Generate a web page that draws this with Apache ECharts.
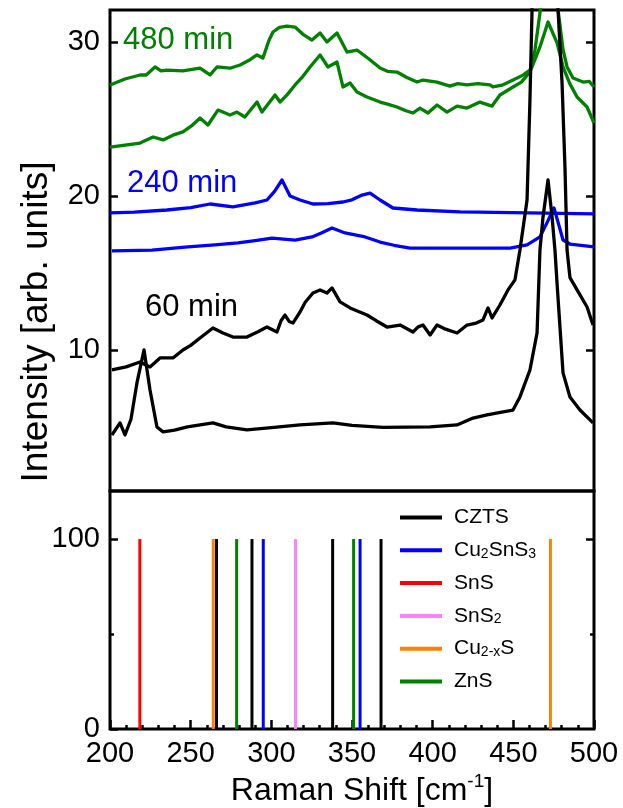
<!DOCTYPE html>
<html><head><meta charset="utf-8">
<script src="https://cdn.jsdelivr.net/npm/echarts@6/dist/echarts.min.js"></script>
<style>html,body{margin:0;padding:0;background:#fff;}#c{width:623px;height:808px;}</style>
</head><body><div id="c"></div>
<script>
const FONT = '"Liberation Sans", Arial, sans-serif';

// ---- Raman spectra (x: Raman shift cm-1, y: intensity arb. units) ----
const green480Upper = [
  [200.0,27.21],[209.3,27.60],[218.6,27.86],[222.4,27.86],[227.9,28.38],[231.6,28.12],[235.3,28.18],
  [245.2,28.12],[255.8,28.31],[262.0,27.86],[266.3,28.38],[274.4,28.30],[280.6,28.51],[286.8,28.85],
  [291.1,29.16],[294.8,28.96],[298.5,30.10],[301.0,30.65],[305.0,30.95],[309.7,31.04],[314.7,30.97],
  [319.6,30.50],[325.2,30.13],[330.2,30.58],[334.5,30.00],[340.7,30.58],[346.9,29.35],[353.1,29.48],
  [360.5,28.90],[367.4,28.31],[372.0,28.10],[377.9,28.05],[384.0,27.70],[390.3,27.40],[394.0,27.53],
  [402.7,27.40],[410.7,27.14],[415.5,27.30],[421.3,27.21],[428.0,27.30],[435.5,27.21],[437.4,27.08],
  [443.0,27.20],[449.8,27.53],[456.0,27.85],[460.3,28.18],[463.4,29.48],[466.5,31.88],[471.5,38.0],
  [477.7,32.1],[480.8,29.5],[483.3,28.38],[487.0,27.66],[493.2,27.40],[497.0,27.45],[500.0,27.08]
];
const green480Lower = [
  [200.0,23.18],[209.3,23.30],[218.6,23.44],[226.7,23.83],[232.9,23.64],[239.0,23.95],[245.2,24.16],
  [250.5,24.55],[255.8,25.06],[260.7,24.61],[266.9,25.58],[274.4,25.26],[278.7,25.45],[283.6,25.13],
  [291.1,26.10],[294.2,25.45],[302.3,26.56],[305.4,26.10],[310.0,26.60],[314.7,27.21],[319.0,27.70],
  [324.0,28.38],[330.2,29.16],[335.1,28.38],[340.7,28.70],[344.4,27.08],[348.8,27.34],[353.1,26.75],
  [359.3,26.43],[367.4,26.10],[372.5,25.95],[377.9,25.78],[383.0,25.55],[387.8,25.39],[392.1,25.71],
  [397.1,25.39],[402.7,25.91],[408.9,25.45],[415.1,25.84],[421.3,25.71],[429.3,26.10],[436.8,25.84],
  [441.7,26.56],[449.8,27.08],[455.0,27.40],[460.3,28.05],[466.5,29.68],[471.5,31.30],[477.1,29.94],
  [480.8,28.38],[485.0,27.30],[489.5,26.43],[495.7,25.78],[500.0,24.74]
];
const blue240Upper = [
  [200.0,18.90],[215.0,18.95],[235.3,19.09],[250.0,19.25],[262.0,19.48],[276.2,19.29],[290.0,19.55],
  [297.3,19.74],[302.0,20.30],[306.6,21.04],[311.6,20.00],[317.8,19.74],[325.8,19.48],[335.0,19.50],
  [344.4,19.61],[350.0,19.75],[356.2,20.06],[361.2,20.19],[367.4,19.74],[375.4,19.22],[390.3,19.09],
  [417.0,18.97],[460.0,18.90],[500.0,18.84]
];
const blue240Lower = [
  [201.2,16.43],[226.0,16.49],[248.3,16.69],[265.0,16.82],[279.3,16.95],[290.0,17.10],[300.4,17.27],
  [314.7,17.14],[325.2,17.34],[331.0,17.60],[337.6,17.92],[345.7,17.60],[358.1,17.34],[367.4,17.01],
  [376.0,16.80],[386.0,16.62],[420.0,16.62],[448.0,16.62],[458.5,16.82],[466.5,17.34],[471.5,18.40],
  [475.2,19.22],[477.7,18.30],[480.8,17.14],[485.1,16.88],[500.0,16.69]
];
const black60Upper = [
  [201.2,8.70],[210.0,8.90],[218.6,9.22],[224.8,8.90],[231.0,9.48],[239.0,9.48],[245.2,10.00],
  [250.0,10.30],[255.8,10.78],[263.8,11.43],[270.0,11.10],[276.2,10.84],[284.9,10.84],[292.0,11.20],
  [297.3,11.49],[303.5,11.17],[306.0,11.90],[308.5,12.27],[311.0,11.85],[313.4,11.75],[317.8,12.47],
  [321.0,13.10],[325.8,13.70],[330.2,13.90],[334.5,13.70],[337.6,14.03],[342.6,13.12],[348.8,12.73],
  [354.0,12.50],[359.3,12.27],[365.0,11.90],[371.7,11.49],[379.8,11.62],[387.8,11.17],[391.0,11.50],
  [394.0,11.62],[398.4,10.97],[402.7,11.62],[408.0,11.35],[415.1,11.10],[421.3,11.62],[427.0,11.75],
  [431.2,11.95],[434.3,12.73],[436.8,12.08],[441.7,12.92],[446.7,13.90],[451.0,14.55],[454.1,16.49],
  [458.5,19.74],[460.3,26.23],[461.6,32.1],[471.0,60.0],[477.7,32.1],[480.2,27.34],[482.0,21.90],
  [483.3,16.49],[485.1,14.70],[489.5,13.90],[495.7,12.79],[499.4,11.62]
];
const black60Lower = [
  [201.2,4.48],[206.2,5.26],[209.3,4.48],[213.0,5.50],[216.7,7.86],[221.1,10.00],[224.8,7.40],
  [229.1,5.00],[232.9,4.68],[240.0,4.80],[248.0,5.00],[263.8,5.26],[272.0,5.00],[284.9,4.81],
  [300.0,4.95],[317.8,5.13],[338.2,5.26],[350.0,5.10],[369.2,4.97],[398.4,5.00],[415.1,5.13],
  [425.0,5.58],[433.7,5.78],[442.0,5.95],[449.8,6.10],[454.1,6.95],[460.3,8.70],[464.7,11.10],
  [466.5,16.49],[468.4,18.64],[471.5,21.04],[474.0,18.64],[475.8,16.49],[477.1,14.32],[480.8,8.51],
  [485.1,6.95],[491.3,6.10],[499.4,5.26]
];

// ---- Reference peak positions (cm-1), relative intensity 100 ----
const cztsPeaks = [266, 288, 338, 368];
const cu2sns3Peaks = [295, 355];
const snsPeaks = [218.5];
const sns2Peaks = [315];
const cu2xsPeaks = [264, 473];
const znsPeaks = [278.5, 351];
const stickHeight = 100;

// ---- Tick values ----
const topYTicks = [10, 20, 30];
const botYMajor = [0, 100];
const botYMinor = [50];

const phases = [
  {name:'CZTS', peaks:cztsPeaks, color:'#000000'},
  {name:'Cu2SnS3', peaks:cu2sns3Peaks, color:'#0000ff'},
  {name:'SnS', peaks:snsPeaks, color:'#ff0000'},
  {name:'SnS2', peaks:sns2Peaks, color:'#ff80ff'},
  {name:'Cu2-xS', peaks:cu2xsPeaks, color:'#ff8000'},
  {name:'ZnS', peaks:znsPeaks, color:'#008000'}
];
const legendRich = {
  'CZTS':'CZTS', 'Cu2SnS3':'Cu{sub|2}SnS{sub|3}', 'SnS':'SnS', 'SnS2':'SnS{sub|2}',
  'Cu2-xS':'Cu{sub|2-x}S', 'ZnS':'ZnS'
};

const spectra = [
  {d:green480Upper, c:'#008000'}, {d:green480Lower, c:'#008000'},
  {d:blue240Upper, c:'#0000ff'}, {d:blue240Lower, c:'#0000ff'},
  {d:black60Upper, c:'#000000'}, {d:black60Lower, c:'#000000'}
];

const series = [];
spectra.forEach(s => series.push({
  type:'line', xAxisIndex:0, yAxisIndex:0, data:s.d, showSymbol:false, symbol:'none',
  clip:true, silent:true, lineStyle:{color:s.c, width:3.3, join:'round'}, itemStyle:{color:s.c}, z:2
}));
phases.forEach(p => series.push({
  type:'bar', name:p.name, xAxisIndex:1, yAxisIndex:2,
  data:p.peaks.map(x => [x, stickHeight]), barWidth:3, barGap:'-100%',
  itemStyle:{color:p.color}, silent:true
}));

const tickStyle = {color:'#000', width:2.5};
const labelStyle = {color:'#000', fontSize:29, fontFamily:FONT};

const option = {
  animation:false,
  backgroundColor:'#fff',
  grid:[
    {left:110, top:10, width:484, height:481, show:true, borderColor:'#000', borderWidth:3, backgroundColor:'transparent'},
    {left:110, top:491, width:484, height:238, show:true, borderColor:'#000', borderWidth:3, backgroundColor:'transparent'}
  ],
  xAxis:[
    {gridIndex:0, type:'value', min:200, max:500, axisLine:{show:false}, axisTick:{show:false},
     axisLabel:{show:false}, splitLine:{show:false}},
    {gridIndex:1, type:'value', min:200, max:500, interval:50, axisLine:{show:false},
     axisTick:{show:true, inside:true, length:9, lineStyle:tickStyle},
     minorTick:{show:true, splitNumber:5, length:4, lineStyle:tickStyle},
     axisLabel:Object.assign({margin:10}, labelStyle), splitLine:{show:false}}
  ],
  yAxis:[
    {gridIndex:0, type:'value', position:'left', min:0.84, max:32.08, axisLine:{show:false},
     axisTick:{show:true, inside:true, length:8, lineStyle:tickStyle, customValues:topYTicks},
     axisLabel:Object.assign({margin:10, customValues:topYTicks}, labelStyle), splitLine:{show:false}},
    {gridIndex:0, type:'value', position:'right', min:0.84, max:32.08, axisLine:{show:false},
     axisTick:{show:true, inside:true, length:8, lineStyle:tickStyle, customValues:topYTicks},
     axisLabel:{show:false}, splitLine:{show:false}},
    {gridIndex:1, type:'value', position:'left', min:0, max:125.3, axisLine:{show:false},
     axisTick:{show:true, inside:true, length:8, lineStyle:tickStyle, customValues:botYMajor},
     axisLabel:Object.assign({margin:10, customValues:botYMajor}, labelStyle), splitLine:{show:false}},
    {gridIndex:1, type:'value', position:'left', min:0, max:125.3, axisLine:{show:false},
     axisTick:{show:true, inside:true, length:4, lineStyle:tickStyle, customValues:botYMinor},
     axisLabel:{show:false}, splitLine:{show:false}},
    {gridIndex:1, type:'value', position:'right', min:0, max:125.3, axisLine:{show:false},
     axisTick:{show:true, inside:true, length:8, lineStyle:tickStyle, customValues:[100]},
     axisLabel:{show:false}, splitLine:{show:false}},
    {gridIndex:1, type:'value', position:'right', min:0, max:125.3, axisLine:{show:false},
     axisTick:{show:true, inside:true, length:4, lineStyle:tickStyle, customValues:botYMinor},
     axisLabel:{show:false}, splitLine:{show:false}}
  ],
  legend:{
    data:phases.map(p => p.name), orient:'vertical', left:400, top:507, padding:0,
    itemWidth:42, itemHeight:4, itemGap:11.8, icon:'rect', selectedMode:false,
    formatter:name => legendRich[name],
    textStyle:{color:'#000', fontSize:21, fontFamily:FONT, lineHeight:21, padding:[0,0,0,7],
      rich:{sub:{fontSize:14, fontFamily:FONT, color:'#000', lineHeight:4, verticalAlign:'bottom'}}}
  },
  graphic:[
    {type:'text', x:123, y:40, silent:true, style:{text:'480 min', fill:'#008000', fontSize:31, fontFamily:FONT,
      align:'left', verticalAlign:'middle', textAlign:'left', textVerticalAlign:'middle'}},
    {type:'text', x:127, y:183, silent:true, style:{text:'240 min', fill:'#0000ff', fontSize:31, fontFamily:FONT,
      align:'left', verticalAlign:'middle', textAlign:'left', textVerticalAlign:'middle'}},
    {type:'text', x:145, y:307, silent:true, style:{text:'60 min', fill:'#000000', fontSize:31, fontFamily:FONT,
      align:'left', verticalAlign:'middle', textAlign:'left', textVerticalAlign:'middle'}},
    {type:'text', x:37, y:322, rotation:Math.PI/2, silent:true, style:{text:'Intensity [arb. units]', fill:'#000',
      fontSize:37, fontFamily:FONT, align:'center', verticalAlign:'middle', textAlign:'center', textVerticalAlign:'middle'}},
    {type:'text', x:362, y:791, silent:true, style:{text:'Raman Shift [cm{sup|-1}]', fill:'#000',
      fontSize:32, fontFamily:FONT, lineHeight:38, align:'center', verticalAlign:'middle', textAlign:'center', textVerticalAlign:'middle',
      rich:{sup:{fontSize:19, fontFamily:FONT, fill:'#000', lineHeight:20, verticalAlign:'top'}}}}
  ],
  series:series
};

const chart = echarts.init(document.getElementById('c'), null, {renderer:'canvas'});
chart.setOption(option);
</script>
</body></html>
